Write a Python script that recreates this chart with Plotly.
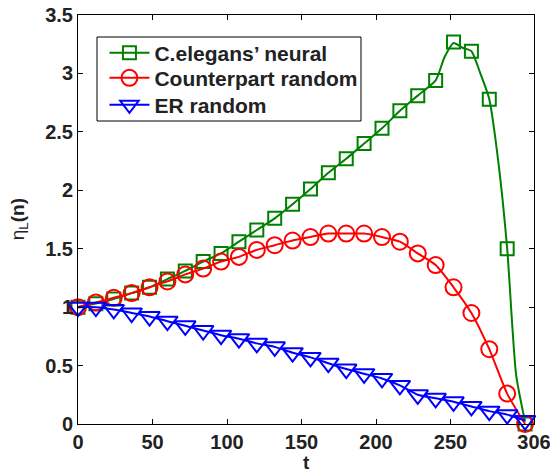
import plotly.graph_objects as go

# marker sample times (every 12 steps)
t_marks = [0, 12, 24, 36, 48, 60, 72, 84, 96, 108, 120, 132, 144, 156, 168, 180,
           192, 204, 216, 228, 240, 252, 264, 276, 288, 300]

celegans = [1.00, 1.03, 1.07, 1.12, 1.17, 1.24, 1.31, 1.39, 1.46, 1.56, 1.66, 1.76,
            1.88, 2.01, 2.15, 2.27, 2.40, 2.53, 2.68, 2.81, 2.94, 3.27, 3.19, 2.78,
            1.50, 0.00]
counterpart = [1.00, 1.04, 1.08, 1.12, 1.17, 1.22, 1.28, 1.33, 1.39, 1.43, 1.49, 1.53,
               1.57, 1.60, 1.63, 1.63, 1.63, 1.60, 1.56, 1.46, 1.36, 1.17, 0.95, 0.64,
               0.26, 0.00]
er_random = [1.00, 1.00, 0.98, 0.95, 0.92, 0.88, 0.84, 0.80, 0.76, 0.73, 0.69, 0.66,
             0.61, 0.57, 0.52, 0.47, 0.43, 0.39, 0.33, 0.25, 0.22, 0.19, 0.15, 0.11,
             0.08, 0.03]

# denser curve for the C.elegans line near the peak / drop
celegans_line_t = [0, 12, 24, 36, 48, 60, 72, 84, 96, 108, 120, 132, 144, 156, 168, 180,
                   192, 204, 216, 228, 240, 246, 252, 258, 264, 270, 276, 282, 288, 294, 300]
celegans_line = [1.00, 1.03, 1.07, 1.12, 1.17, 1.24, 1.31, 1.39, 1.46, 1.56, 1.66, 1.76,
                 1.88, 2.01, 2.15, 2.27, 2.40, 2.53, 2.68, 2.81, 2.94, 3.14, 3.26, 3.22,
                 3.19, 3.00, 2.78, 2.25, 1.50, 0.42, 0.02]

x_ticks = [0, 50, 100, 150, 200, 250, 306]
x_ticktext = ["0", "50", "100", "150", "200", "250", "306"]

names = ["C.elegans\u2019 neural", "Counterpart random", "ER random"]
colors = ["#008000", "#ff0000", "#0000ff"]
symbols = ["square-open", "circle-open", "triangle-down-open"]
msizes = [13, 16, 18]

FONT = "Liberation Sans, Arial, Helvetica, sans-serif"

fig = go.Figure()

series = [
    (celegans_line_t, celegans_line, t_marks, celegans),
    (t_marks, counterpart, t_marks, counterpart),
    (t_marks, er_random, t_marks, er_random),
]

for i, (lt, ly, mt, my) in enumerate(series):
    fig.add_trace(go.Scatter(
        x=lt, y=ly, mode="lines", showlegend=False,
        line=dict(color=colors[i], width=2, shape="spline", smoothing=0.6),
        cliponaxis=False, hoverinfo="skip"))
    fig.add_trace(go.Scatter(
        x=mt, y=my, mode="markers", showlegend=False,
        marker=dict(symbol=symbols[i], size=msizes[i], color=colors[i],
                    line=dict(color=colors[i], width=2)),
        cliponaxis=False))

legend_ids = ["legend", "legend2", "legend3"]
for i in range(3):
    fig.add_trace(go.Scatter(
        x=[None], y=[None], mode="lines+markers", name=names[i],
        legend=legend_ids[i],
        line=dict(color=colors[i], width=2),
        marker=dict(symbol=symbols[i], size=msizes[i], color=colors[i],
                    line=dict(color=colors[i], width=2))))

axis_common = dict(
    showline=True, linecolor="black", linewidth=1, mirror="allticks",
    ticks="inside", ticklen=5, tickcolor="black", tickwidth=1,
    showgrid=False, zeroline=False, automargin=False,
    ticklabeloverflow="allow",
    tickfont=dict(family=FONT, size=20, color="#222222", weight="bold"),
)

fig.update_xaxes(range=[0, 306], tickvals=x_ticks, ticktext=x_ticktext, **axis_common)
fig.update_yaxes(range=[0, 3.5], dtick=0.5, tick0=0, **axis_common)

leg_font = dict(family=FONT, size=21, color="#222222", weight="bold")
row_y = [0.907, 0.8455, 0.7795]  # legend row centres (paper)
legends = {}
for i, lid in enumerate(legend_ids):
    legends[lid] = dict(
        x=0.058, y=row_y[i], xanchor="left", yanchor="middle",
        borderwidth=0, bgcolor="rgba(0,0,0,0)", font=leg_font, itemwidth=40,
    )

fig.update_layout(
    width=550, height=472,
    margin=dict(l=78, r=16, t=15, b=48),
    paper_bgcolor="white", plot_bgcolor="white",
    font=dict(family=FONT, color="#222222"),
    shapes=[dict(type="rect", xref="paper", yref="paper",
                 x0=0.0417, x1=0.6206, y0=0.7408, y1=0.9462,
                 line=dict(color="black", width=1), fillcolor="white", layer="below")],
    annotations=[
        dict(text="t", xref="paper", yref="paper", x=0.5, y=-0.095,
             xanchor="center", yanchor="middle", showarrow=False,
             font=dict(family=FONT, size=19, color="#222222", weight="bold")),
        dict(text="\u03b7<sub>L</sub><b>(n)</b>", xref="paper", yref="paper",
             x=-0.13, y=0.5, xanchor="center", yanchor="middle", textangle=-90,
             showarrow=False,
             font=dict(family=FONT, size=19, color="#222222")),
    ],
    **legends,
)

# remove the browser's default body margin so the figure sits at the page origin
fig.write_html("out.html",
               config={"displayModeBar": False},
               post_script="document.body.style.margin='0';document.body.style.padding='0';")
